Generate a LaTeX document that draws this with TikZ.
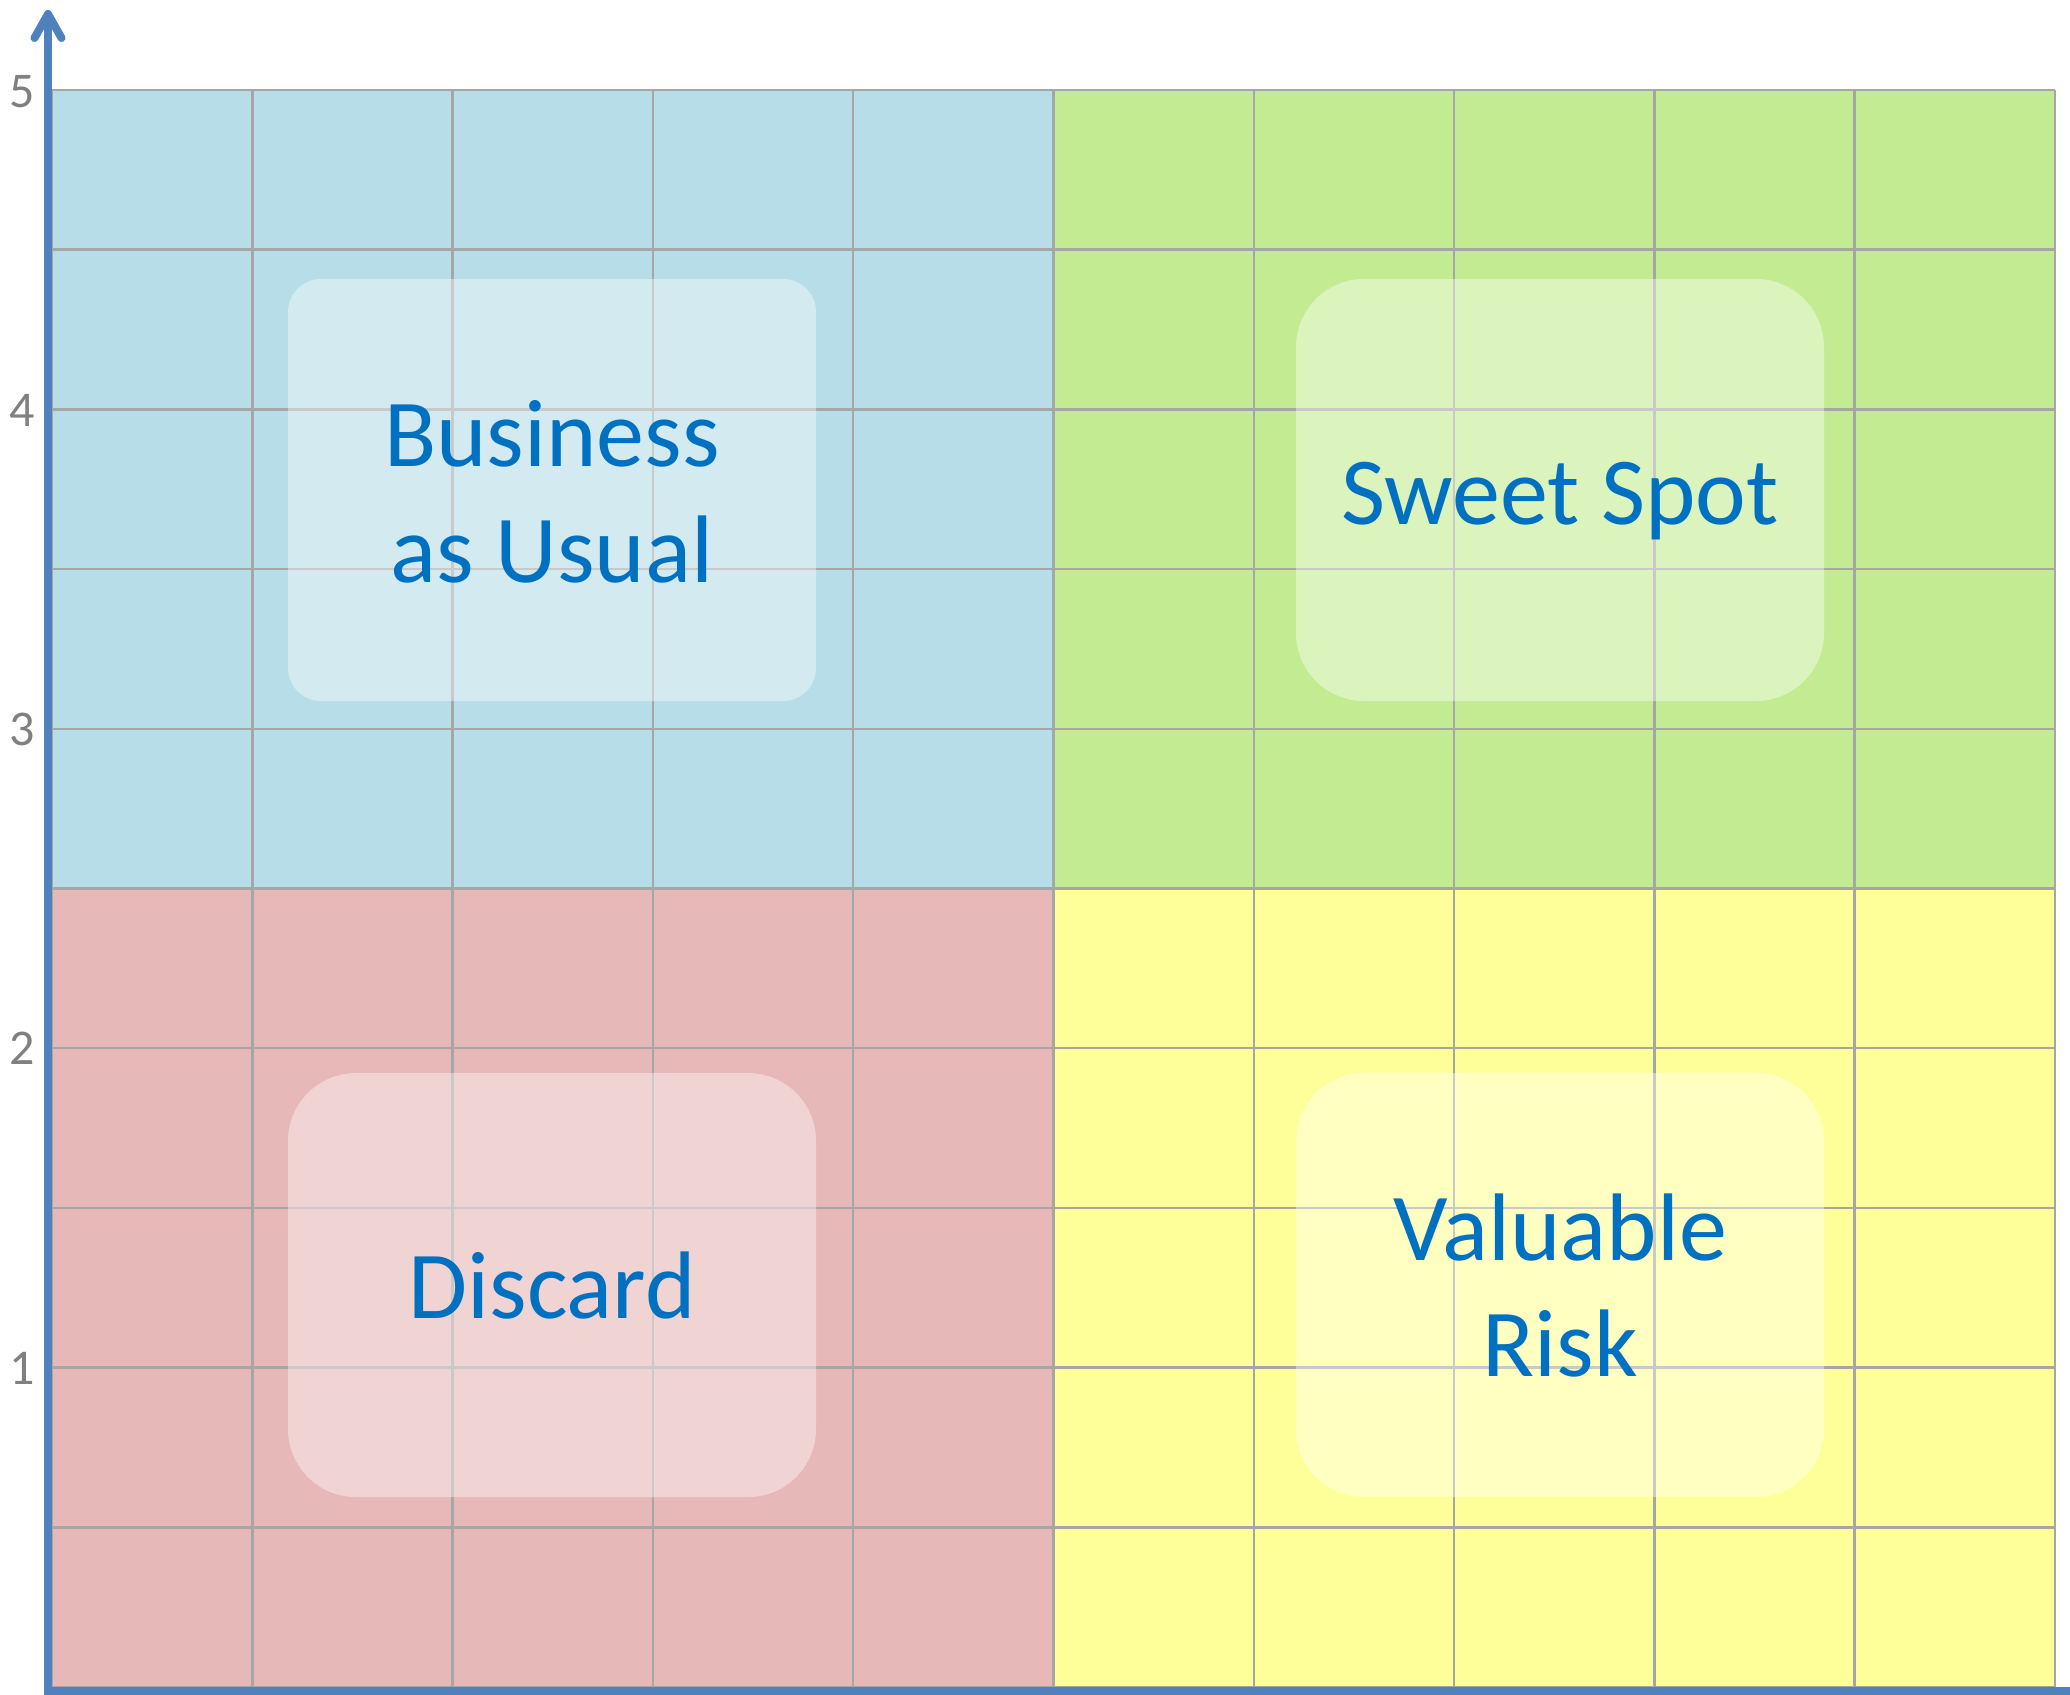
\documentclass[tikz,border=0pt]{standalone}
\usepackage{fontspec}
\setmainfont{Carlito}
\definecolor{qblue}{HTML}{B7DDE8}
\definecolor{qgreen}{HTML}{C3EB92}
\definecolor{qpink}{HTML}{E6B8B7}
\definecolor{qyellow}{HTML}{FFFF99}
\definecolor{gridgray}{HTML}{A6A6A6}
\definecolor{labelblue}{HTML}{0070C0}
\definecolor{tickgray}{HTML}{808080}
\definecolor{axisblue}{HTML}{4F81BD}
\begin{document}
\begin{tikzpicture}[x=0.5pt,y=-0.5pt,
  gridline/.style={draw=gridgray,line width=1.25pt},
  softbox/.style={fill=white,fill opacity=0.4,draw=none},
  qtext/.style={text=labelblue,font=\fontsize{48}{58}\selectfont,inner sep=0pt,anchor=base},
  ticklbl/.style={text=tickgray,font=\fontsize{25}{30}\selectfont,inner sep=0pt,anchor=center},
  axisline/.style={draw=axisblue,line width=4pt}]
\useasboundingbox (0,0) rectangle (2070,1694);
% quadrants
\fill[qblue]   (52,90)      rectangle (1053.5,888.5);
\fill[qgreen]  (1053.5,90)  rectangle (2055,888.5);
\fill[qpink]   (52,888.5)   rectangle (1053.5,1687);
\fill[qyellow] (1053.5,888.5) rectangle (2055,1687);
% grid
\foreach \i in {0,...,10} {
  \draw[gridline] ({52+\i*200.3},90) -- ({52+\i*200.3},1687);
  \draw[gridline] (52,{90+\i*159.7}) -- (2055,{90+\i*159.7});
}
% soft boxes
\path[softbox,rounded corners=16.5pt] (288,279) rectangle (816,701);
\path[softbox,rounded corners=34pt] (1296,279) rectangle (1824,701);
\path[softbox,rounded corners=34pt] (288,1073) rectangle (816,1497);
\path[softbox,rounded corners=34pt] (1296,1073) rectangle (1824,1497);
% labels
\node[qtext] (bau1) at (552,466) {Business};
\node[qtext] (bau2) at (552,582) {as Usual};
\node[qtext] (ss) at (1560,524) {Sweet Spot};
\node[qtext] (dis) at (552,1318) {Discard};
\node[qtext] (vr1) at (1560,1260) {Valuable};
\node[qtext] (vr2) at (1560,1376) {Risk};
% tick labels
\node[ticklbl] (t5) at (22,92) {5};
\node[ticklbl] (t4) at (22,410) {4};
\node[ticklbl] (t3) at (22,729) {3};
\node[ticklbl] (t2) at (22,1048) {2};
\node[ticklbl] (t1) at (22,1368) {1};
% axes
\coordinate (axtop) at (48,14);
\coordinate (axorigin) at (48,1690.5);
\coordinate (axright) at (2080,1690.5);
\draw[axisline,line join=miter] (axtop) -- (axorigin) -- (axright);
\draw[axisline,line cap=round,line join=round] (34.5,38) -- (axtop) -- (61.5,38);
\end{tikzpicture}
\end{document}
